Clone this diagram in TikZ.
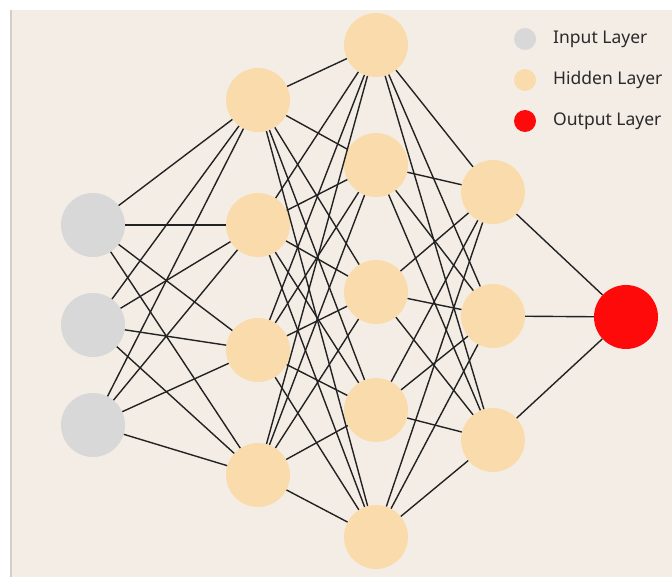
\documentclass[tikz,border=0pt]{standalone}
\usepackage{fontspec}
\setmainfont{Noto Sans}
\definecolor{bgc}{HTML}{F4EDE6}
\definecolor{inc}{HTML}{D7D8D7}
\definecolor{hidc}{HTML}{FADCAC}
\definecolor{outc}{HTML}{FF0A0A}
\definecolor{edgec}{HTML}{222222}
\definecolor{txtc}{HTML}{2A2A2A}
\definecolor{borderc}{HTML}{D2CEC8}
\begin{document}
\begin{tikzpicture}[x=1pt,y=-1pt,
  neuron/.style={circle,draw=none,minimum size=64pt,inner sep=0pt},
  innode/.style={neuron,fill=inc},
  hidnode/.style={neuron,fill=hidc},
  outnode/.style={neuron,fill=outc},
  link/.style={draw=edgec,line width=1.4pt},
  legdot/.style={circle,draw=none,minimum size=22pt,inner sep=0pt},
  legtxt/.style={anchor=west,text=txtc,font=\fontsize{17.5}{20}\selectfont,inner sep=0pt}]
\useasboundingbox (0,0) rectangle (672,577);
\fill[white] (0,0) rectangle (672,577);
\fill[bgc] (11,10) rectangle (672,577);
\fill[borderc] (10,10) rectangle (11.5,577);
% nodes
\foreach \i/\y in {1/225,2/325,3/425} \node[innode] (i\i) at (93,\y) {};
\foreach \i/\y in {1/100,2/225,3/350,4/475} \node[hidnode] (a\i) at (258,\y) {};
\foreach \i/\y in {1/45,2/165,3/292,4/410,5/537} \node[hidnode] (b\i) at (376,\y) {};
\foreach \i/\y in {1/192,2/316,3/440} \node[hidnode] (c\i) at (493,\y) {};
\node[outnode] (o) at (626,317) {};
% connectors
\foreach \s in {1,2,3} \foreach \t in {1,2,3,4} \draw[link] (i\s) -- (a\t);
\foreach \s in {1,2,3,4} \foreach \t in {1,2,3,4,5} \draw[link] (a\s) -- (b\t);
\foreach \s in {1,2,3,4,5} \foreach \t in {1,2,3} \draw[link] (b\s) -- (c\t);
\foreach \s in {1,2,3} \draw[link] (c\s) -- (o);
% legend
\node[legdot,fill=inc] (l1) at (525,39) {};
\node[legdot,fill=hidc] (l2) at (525,80) {};
\node[legdot,fill=outc] (l3) at (525,121) {};
\node[legtxt] (t1) at (553,39) {Input Layer};
\node[legtxt] (t2) at (553,80) {Hidden Layer};
\node[legtxt] (t3) at (553,121) {Output Layer};
\end{tikzpicture}
\end{document}
